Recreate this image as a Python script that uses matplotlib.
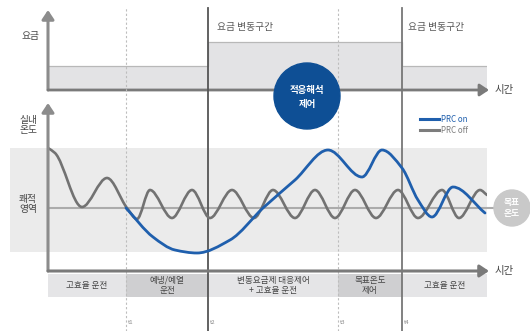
import numpy as np
import matplotlib
matplotlib.use("Agg")
import matplotlib.pyplot as plt
from matplotlib.path import Path
from matplotlib.patches import PathPatch, Circle
from matplotlib.lines import Line2D
from matplotlib.transforms import blended_transform_factory

plt.rcParams['font.family'] = ['Noto Sans CJK KR', 'DejaVu Sans']

# ---------------- data ----------------
# time in minutes, temperature as deviation from target (deg C)
off_time = [0, 7, 34, 59, 79, 89, 102, 124, 144, 162, 184, 206, 225, 247,
            267, 287, 307, 328, 350, 370, 394, 411, 432, 439]
off_temp = [3.0, 2.75, 0.05, 1.5, 0.0, -0.55, 0.9, -0.5, 0.9, -0.5, 0.9, -0.5, 0.9, -0.5,
            0.9, -0.5, 0.9, -0.5, 0.9, -0.5, 0.9, -0.5, 0.9, 0.65]
on_time = [78, 105, 127, 149, 182, 215, 247, 280, 314, 334, 354, 370, 384, 405, 437]
on_temp = [0.0, -1.45, -2.1, -2.25, -1.6, 0.0, 1.4, 2.9, 1.55, 2.9, 2.0, 0.4, -0.45, 1.05, -0.25]

comfort_hi = 3.0
comfort_lo = -2.2
comfort_start = -38
time_end = 439

price_edges = [0, 160, 354, 439]
price_levels = [1, 2, 1]

event_times = [78, 160, 290, 354]
event_labels = ['t1', 't2', 't3', 't4']

phase_edges = [0, 78, 160, 290, 354, 439]
phase_labels = ['고효율 운전', '예냉/예열\n운전', '변동요금제 대응제어\n+ 고효율 운전',
                '목표온도\n제어', '고효율 운전']
phase_dark = [False, True, False, True, False]

BLUE = '#1f5fad'
GREY = '#727272'
AXC = '#8c8c8c'
TXT = '#454545'

W, H = 530, 331


def smooth_path(xs, ys):
    xs = np.asarray(xs, float)
    ys = np.asarray(ys, float)
    n = len(xs)
    h = np.diff(xs)
    d = np.diff(ys) / h
    m = np.zeros(n)
    m[0] = d[0]
    m[-1] = d[-1]
    for i in range(1, n - 1):
        if d[i - 1] * d[i] <= 0:
            m[i] = 0.0
        else:
            w1 = 2 * h[i] + h[i - 1]
            w2 = h[i] + 2 * h[i - 1]
            m[i] = (w1 + w2) / (w1 / d[i - 1] + w2 / d[i])
    verts = [(xs[0], ys[0])]
    codes = [Path.MOVETO]
    for i in range(n - 1):
        verts += [(xs[i] + h[i] / 3, ys[i] + m[i] * h[i] / 3),
                  (xs[i + 1] - h[i] / 3, ys[i + 1] - m[i + 1] * h[i] / 3),
                  (xs[i + 1], ys[i + 1])]
        codes += [Path.CURVE4] * 3
    return Path(verts, codes)


def arrow(ax, start, end, lw=2.0, color=AXC):
    ax.annotate('', xy=end, xytext=start, xycoords='data', annotation_clip=False,
                arrowprops=dict(arrowstyle='-|>,head_length=0.45,head_width=0.3',
                                mutation_scale=12, lw=lw, color=color,
                                shrinkA=0, shrinkB=0))


fig = plt.figure(figsize=(W / 100, H / 100), dpi=100)

L = 48 / W
AW = 439 / W

# ---------------- price panel ----------------
ax_p = fig.add_axes([L, (H - 90) / H, AW, 80 / H])
ax_p.set_xlim(0, time_end)
ax_p.set_ylim(0, 80 / 24)
ax_p.axis('off')
pe = list(price_edges)
pl = list(price_levels) + [price_levels[-1]]
ax_p.fill_between(pe, 0, pl, step='post', color='#e3e3e5', lw=0, zorder=1)
ax_p.step(pe, pl, where='post', color='#b8b8b8', lw=0.9, zorder=2)
arrow(ax_p, (0, 0), (0, 80 / 24), lw=2.2)
arrow(ax_p, (0, 0), (time_end + 2, 0), lw=2.0, color='#7a7a7a')

# ---------------- phase table ----------------
ax_b = fig.add_axes([L, 34 / H, AW, 23 / H])
ax_b.set_xlim(0, time_end)
ax_b.set_ylim(0, 1)
ax_b.axis('off')
lefts = phase_edges[:-1]
widths = np.diff(phase_edges)
colors = ['#cfcfd1' if dk else '#e5e5e7' for dk in phase_dark]
ax_b.bar(lefts, 1, width=widths, align='edge', color=colors, lw=0)
for l, w, lab in zip(lefts, widths, phase_labels):
    ax_b.text(l + w / 2, 0.5, lab, ha='center', va='center', fontsize=6.2,
              color=TXT, linespacing=1.15)

# ---------------- temperature panel ----------------
ax_t = fig.add_axes([L, 60 / H, AW, 168 / H])
ax_t.set_xlim(0, time_end)
ax_t.set_ylim(-3.15, 5.25)
ax_t.axis('off')
ax_t.fill_between([comfort_start, time_end], comfort_lo, comfort_hi,
                  color='#ebebeb', lw=0, clip_on=False, zorder=0)
ax_t.plot([0, time_end + 8], [0, 0], color='#ababab', lw=1.5, clip_on=False, zorder=1)

# vertical event lines spanning the whole figure
bt = blended_transform_factory(ax_t.transData, fig.transFigure)
for t, lab in zip(event_times, event_labels):
    if lab in ('t1', 't3'):
        ln = Line2D([t, t], [0, 1 - 8 / H], transform=bt, color='#bdbdbd', lw=0.8,
                    ls=(0, (2, 2)), clip_on=False, zorder=1.5)
    else:
        ln = Line2D([t, t], [0, 1 - 8 / H], transform=bt,
                    color='#555555' if lab == 't2' else '#777777', lw=1.3,
                    clip_on=False, zorder=1.5)
    ax_t.add_line(ln)
    ax_t.text(t + 2, 1 - 323 / H, lab, transform=bt, fontsize=4.3, color='#8a8a8a',
              ha='left', va='center', clip_on=False)

ax_t.add_patch(PathPatch(smooth_path(off_time, off_temp), fill=False, edgecolor=GREY,
                         lw=1.9, zorder=3, capstyle='round'))
ax_t.add_patch(PathPatch(smooth_path(on_time, on_temp), fill=False, edgecolor=BLUE,
                         lw=2.0, zorder=4, capstyle='round'))

arrow(ax_t, (0, -3.15), (0, 5.25), lw=2.2)
arrow(ax_t, (0, -3.15), (time_end + 2, -3.15), lw=2.2, color='#7a7a7a')

handles = [Line2D([], [], color=BLUE, lw=2.2), Line2D([], [], color='#7d7d7d', lw=2.2)]
leg = ax_t.legend(handles, ['PRC on', 'PRC off'], loc='upper left',
                  bbox_to_anchor=(420 / W, 1 - 115 / H), bbox_transform=fig.transFigure,
                  frameon=False, fontsize=5.8, handlelength=2.3, handletextpad=0.3,
                  labelspacing=0.25, borderpad=0, borderaxespad=0)
for txt, c in zip(leg.get_texts(), [BLUE, '#7d7d7d']):
    txt.set_color(c)

# ---------------- overlay: labels and badges ----------------
ax_o = fig.add_axes([0, 0, 1, 1])
ax_o.set_xlim(0, W)
ax_o.set_ylim(H, 0)
ax_o.axis('off')

ax_o.text(31, 36, '요금', ha='center', va='center', fontsize=7, color=TXT)
ax_o.text(28, 125, '실내\n온도', ha='center', va='center', fontsize=7, color=TXT,
          linespacing=1.1)
ax_o.text(28, 204, '쾌적\n영역', ha='center', va='center', fontsize=7, color=TXT,
          linespacing=1.1)
ax_o.text(217, 27, '요금 변동구간', ha='left', va='center', fontsize=7, color='#555555')
ax_o.text(408, 27, '요금 변동구간', ha='left', va='center', fontsize=7, color='#555555')
ax_o.text(495, 90, '시간', ha='left', va='center', fontsize=7.5, color=TXT)
ax_o.text(495, 271, '시간', ha='left', va='center', fontsize=7.5, color=TXT)

ax_o.add_patch(Circle((307, 96), 33, color='#0e4f95', zorder=5))
ax_o.text(307, 97, '적응해석\n제어', ha='center', va='center', fontsize=6.8,
          color='white', fontweight='bold', linespacing=1.5, zorder=6)

ax_o.add_patch(Circle((512, 208), 18, color='#c9c9c9', zorder=5))
ax_o.text(512, 208, '목표\n온도', ha='center', va='center', fontsize=6.3,
          color='white', fontweight='bold', linespacing=1.15, zorder=6)

fig.savefig('out.png', dpi=100)
